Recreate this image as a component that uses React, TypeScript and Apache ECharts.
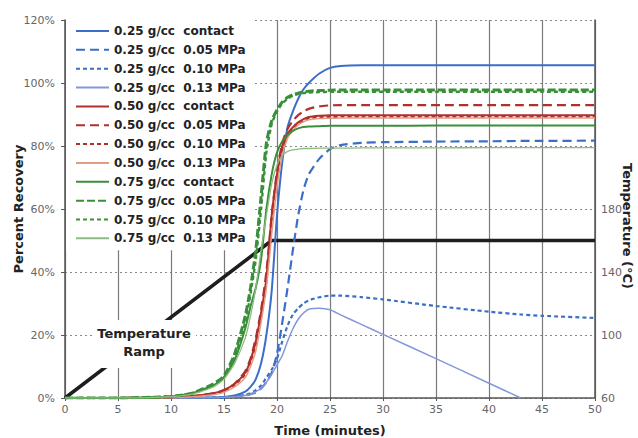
import React, { useEffect, useRef } from "react";
import * as echarts from "echarts";

// Time samples (minutes)
const T = [0, 5, 10, 12, 14, 15, 16, 17, 17.5, 18, 18.5, 19, 19.5, 20, 20.5, 21, 21.5, 22, 22.5, 23, 24, 25, 26, 28, 30, 35, 40, 43, 45, 50];

// Percent recovery for each test
const b25Contact = [0, 0, 0, 0.1, 0.2, 0.3, 0.8, 2, 3.5, 6, 11, 20, 34, 58, 75, 86, 91, 95, 98, 100, 103, 104.8, 105.4, 105.6, 105.6, 105.6, 105.6, 105.6, 105.6, 105.6];
const b25p05 = [0, 0, 0, 0, 0.1, 0.2, 0.4, 0.8, 1.2, 1.8, 3, 5, 8, 14, 24, 35, 47, 58, 66, 71, 76, 79, 80.3, 81, 81.2, 81.4, 81.5, 81.6, 81.6, 81.7];
const b25p10 = [0, 0, 0, 0, 0.1, 0.2, 0.5, 1, 1.5, 2.5, 4, 6.5, 9, 12.5, 18, 23, 26.5, 28.5, 30, 31, 32, 32.5, 32.5, 32, 31.3, 29.2, 27.4, 26.5, 26.1, 25.4];
const b25p13 = [0, 0, 0, 0, 0.1, 0.2, 0.4, 0.8, 1.2, 2, 3, 5, 7.5, 10.5, 13.5, 18, 22, 25, 27, 28.2, 28.5, 28, 26.4, 23.3, 20.2, 12.5, 4.7, 0, null, null];

const r50Contact = [0, 0, 0.2, 0.6, 1.5, 2.5, 4.5, 8, 12, 18, 27, 38, 58, 71, 80, 84, 86, 87.5, 88.5, 89.2, 89.6, 89.8, 89.8, 89.8, 89.8, 89.8, 89.8, 89.8, 89.8, 89.8];
const r50p05 = [0, 0, 0.2, 0.6, 1.5, 2.5, 4.5, 8.5, 12.5, 19, 28, 40, 58, 72, 81, 85.5, 88, 89.8, 91, 91.8, 92.6, 92.9, 93, 93, 93, 93, 93, 93, 93, 93];
const r50p10 = [0, 0, 0.2, 0.5, 1.3, 2.3, 4.2, 7.5, 11.5, 17, 26, 37, 56, 70, 79, 83.5, 85.5, 87, 88, 88.7, 89.1, 89.2, 89.3, 89.3, 89.3, 89.3, 89.3, 89.3, 89.3, 89.3];
const r50p13 = [0, 0, 0.1, 0.4, 1, 1.8, 3.5, 6.5, 10, 15, 24, 35, 52, 67, 77, 82.5, 85, 86.7, 87.7, 88.3, 88.7, 88.8, 88.9, 88.9, 88.9, 88.9, 88.9, 88.9, 88.9, 88.9];

const g75Contact = [0, 0, 0.5, 1.5, 4, 6.5, 12, 22, 29, 35, 44, 60, 71, 78, 81.5, 83.5, 84.8, 85.6, 86, 86.2, 86.3, 86.4, 86.4, 86.4, 86.4, 86.5, 86.5, 86.5, 86.5, 86.5];
const g75p05 = [0, 0, 0.5, 1.5, 4.5, 7, 14, 26, 35, 47, 64, 81, 88, 91.5, 94, 95.5, 96.3, 96.8, 97.2, 97.4, 97.6, 97.7, 97.8, 97.8, 97.8, 97.8, 97.8, 97.8, 97.8, 97.8];
const g75p10 = [0, 0, 0.5, 1.5, 4, 6.5, 13, 24, 33, 44, 60, 78, 87, 91, 93.5, 95, 96, 96.5, 96.8, 97, 97.1, 97.2, 97.2, 97.2, 97.2, 97.2, 97.2, 97.2, 97.2, 97.2];
const g75p13 = [0, 0, 0.4, 1.2, 3.5, 6, 11, 19, 26, 35, 47, 58, 68, 74, 77, 78.3, 78.8, 79, 79.2, 79.2, 79.3, 79.3, 79.3, 79.4, 79.4, 79.4, 79.5, 79.5, 79.5, 79.5];

// Temperature ramp (°C)
const tempTime = [0, 19.5, 50];
const tempValue = [60, 160, 160];

const seriesNames = [
  "0.25 g/cc  contact",
  "0.25 g/cc  0.05 MPa",
  "0.25 g/cc  0.10 MPa",
  "0.25 g/cc  0.13 MPa",
  "0.50 g/cc  contact",
  "0.50 g/cc  0.05 MPa",
  "0.50 g/cc  0.10 MPa",
  "0.50 g/cc  0.13 MPa",
  "0.75 g/cc  contact",
  "0.75 g/cc  0.05 MPa",
  "0.75 g/cc  0.10 MPa",
  "0.75 g/cc  0.13 MPa",
];
const seriesValues = [
  b25Contact, b25p05, b25p10, b25p13,
  r50Contact, r50p05, r50p10, r50p13,
  g75Contact, g75p05, g75p10, g75p13,
];

const BLUE = "#3b6fc6";
const BLUE_L = "#8596da";
const RED = "#b0302c";
const RED_L = "#e59b83";
const GREEN = "#3a8f3a";
const GREEN_L = "#8cbc80";

const styles: { color: string; width: number; type: any }[] = [
  { color: BLUE, width: 2, type: "solid" },
  { color: BLUE, width: 2.2, type: [9, 5] },
  { color: BLUE, width: 2.2, type: [4, 3] },
  { color: BLUE_L, width: 1.5, type: "solid" },
  { color: RED, width: 2, type: "solid" },
  { color: RED, width: 2.2, type: [9, 5] },
  { color: RED, width: 2.2, type: [4, 3] },
  { color: RED_L, width: 1.5, type: "solid" },
  { color: GREEN, width: 2, type: "solid" },
  { color: GREEN, width: 3, type: [8, 3] },
  { color: GREEN, width: 2.4, type: [4, 3] },
  { color: GREEN_L, width: 1.3, type: "solid" },
];

export default function App() {
  const ref = useRef<HTMLDivElement>(null);
  useEffect(() => {
    if (!ref.current) return;
    const chart = echarts.init(ref.current, undefined, { renderer: "svg" });
    const font = "DejaVu Sans";
    const series: any[] = [
      {
        type: "line",
        yAxisIndex: 1,
        data: tempTime.map((t, i) => [t, tempValue[i]]),
        symbol: "none",
        silent: true,
        z: 1,
        lineStyle: { color: "#1e1e1e", width: 3.5 },
      },
    ];
    seriesNames.forEach((name, k) => {
      const vals = seriesValues[k];
      series.push({
        name,
        type: "line",
        yAxisIndex: 0,
        data: T.map((t, i) => [t, vals[i]]).filter((p) => p[1] !== null),
        symbol: "none",
        smooth: 0.2,
        z: 2,
        lineStyle: { color: styles[k].color, width: styles[k].width, type: styles[k].type },
        itemStyle: { color: styles[k].color },
      });
    });

    const option: any = {
      animation: false,
      backgroundColor: "#ffffff",
      textStyle: { fontFamily: font },
      grid: { left: 65, top: 20, width: 530, height: 378, outerBoundsMode: "none", containLabel: false },
      legend: {
        orient: "vertical",
        left: 66,
        top: 20,
        itemWidth: 33,
        itemHeight: 14,
        itemGap: 6.85,
        padding: [5, 7, 6, 9],
        backgroundColor: "#ffffff",
        data: seriesNames,
        itemStyle: { color: "rgba(0,0,0,0)", borderColor: "rgba(0,0,0,0)", borderWidth: 0, opacity: 0 },
        textStyle: { fontFamily: font, fontWeight: "bold", fontSize: 12, color: "#222" },
      },
      xAxis: {
        type: "value",
        min: 0,
        max: 50,
        interval: 5,
        name: "Time (minutes)",
        nameLocation: "middle",
        nameGap: 26,
        nameMoveOverlap: false,
        nameTextStyle: { fontFamily: font, fontWeight: "bold", fontSize: 13, color: "#222" },
        axisLine: { show: true, onZero: false, lineStyle: { color: "#555", width: 1.5 } },
        axisTick: { show: true, length: 3, lineStyle: { color: "#555" } },
        axisLabel: { color: "#666", fontSize: 11, margin: 6, fontFamily: font },
        splitLine: { show: true, lineStyle: { color: "#7a7a7a", width: 1.2 } },
      },
      yAxis: [
        {
          type: "value",
          position: "left",
          min: 0,
          max: 120,
          interval: 20,
          name: "Percent Recovery",
          nameLocation: "middle",
          nameRotate: 90,
          nameGap: 40,
          nameMoveOverlap: false,
          nameTextStyle: { fontFamily: font, fontWeight: "bold", fontSize: 13, color: "#222" },
          axisLine: { show: true, lineStyle: { color: "#555", width: 1.5 } },
          axisTick: { show: true, length: 4, lineStyle: { color: "#555" } },
          axisLabel: { formatter: "{value}%", color: "#666", fontSize: 11, margin: 10, fontFamily: font },
          splitLine: { show: true, lineStyle: { color: "#888", type: [2, 3], width: 1 } },
        },
        {
          type: "value",
          position: "right",
          min: 60,
          max: 300,
          interval: 40,
          name: "Temperature (°C)",
          nameLocation: "middle",
          nameRotate: -90,
          nameGap: 26,
          nameMoveOverlap: false,
          nameTextStyle: { fontFamily: font, fontWeight: "bold", fontSize: 13, color: "#222", padding: [0, 0, 0, 34] },
          axisLine: { show: true, lineStyle: { color: "#555", width: 1.5 } },
          axisTick: { show: false },
          axisLabel: {
            formatter: (v: number) => (v <= 180 ? String(v) : ""),
            color: "#666",
            fontSize: 11,
            margin: 6,
            fontFamily: font,
          },
          splitLine: { show: false },
        },
      ],
      series,
      graphic: [
        {
          type: "rect",
          z: 100,
          shape: { x: 92, y: 320, width: 104, height: 48 },
          style: { fill: "#ffffff" },
        },
        {
          type: "text",
          z: 101,
          x: 144,
          y: 342,
          style: {
            text: "Temperature\nRamp",
            align: "center",
            verticalAlign: "middle",
            fontFamily: font,
            fontWeight: "bold",
            fontSize: 13,
            lineHeight: 18,
            fill: "#222",
          },
        },
      ],
    };
    chart.setOption(option);
    return () => chart.dispose();
  }, []);
  return (
    <div
      ref={ref}
      style={{ position: "absolute", left: 0, top: 0, width: 638, height: 438 }}
    />
  );
}
